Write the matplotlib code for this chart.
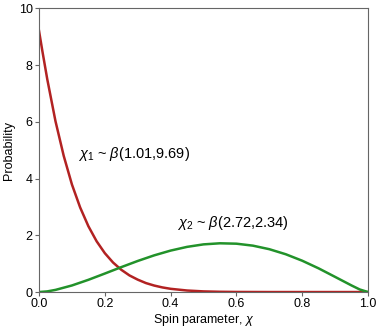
import numpy as np
import matplotlib.pyplot as plt

# values
x_red = [0.0, 0.01, 0.025, 0.05, 0.075, 0.1, 0.125, 0.15, 0.175, 0.2, 0.225,
         0.25, 0.275, 0.3, 0.325, 0.35, 0.375, 0.4, 0.45, 0.5, 0.55, 0.6,
         0.7, 0.8, 0.9, 1.0]
y_red = [9.2, 8.5, 7.5, 6.02, 4.8, 3.79, 2.98, 2.32, 1.79, 1.37, 1.04,
         0.785, 0.585, 0.437, 0.316, 0.229, 0.163, 0.114, 0.054, 0.023, 0.0094, 0.0034,
         0.0003, 0.0, 0.0, 0.0]

x_green = [0.0, 0.025, 0.05, 0.1, 0.15, 0.2, 0.25, 0.3, 0.35, 0.4, 0.45, 0.5,
           0.55, 0.6, 0.65, 0.7, 0.75, 0.8, 0.85, 0.9, 0.95, 0.975, 1.0]
y_green = [0.0, 0.023, 0.076, 0.232, 0.431, 0.652, 0.878, 1.095, 1.293, 1.461, 1.592, 1.68,
           1.718, 1.704, 1.635, 1.51, 1.332, 1.104, 0.834, 0.534, 0.232, 0.09, 0.0]

label1 = r'$\chi_1$ ~ $\beta$(1.01,9.69)'
label2 = r'$\chi_2$ ~ $\beta$(2.72,2.34)'

plt.rcParams['font.family'] = ['Liberation Sans', 'DejaVu Sans']
plt.rcParams['mathtext.fontset'] = 'custom'
plt.rcParams['mathtext.rm'] = 'Liberation Sans'
plt.rcParams['mathtext.it'] = 'Liberation Sans:italic'

fig = plt.figure(figsize=(3.79, 3.30), dpi=100)
ax = fig.add_axes([0.103, 0.115, 0.868, 0.86])

ax.plot(x_red, y_red, color='#b22222', lw=1.8)
ax.plot(x_green, y_green, color='#22922a', lw=1.8)

ax.text(0.119, 4.88, label1, fontsize=10.5, va='center')
ax.text(0.42, 2.42, label2, fontsize=10.5, va='center')

ax.set_xlim(0, 1)
ax.set_ylim(0, 10)
ax.set_xticks([0.0, 0.2, 0.4, 0.6, 0.8, 1.0])
ax.set_xticklabels(['0.0', '0.2', '0.4', '0.6', '0.8', '1.0'])
ax.set_yticks([0, 2, 4, 6, 8, 10])
ax.set_xlabel(r'Spin parameter, $\chi$', fontsize=9, labelpad=1)
ax.set_ylabel('Probability', fontsize=9, labelpad=3)
ax.tick_params(labelsize=9, length=3, color='#666666', pad=1.5)
for s in ax.spines.values():
    s.set_color('#666666')

fig.savefig('out.png', dpi=100)
